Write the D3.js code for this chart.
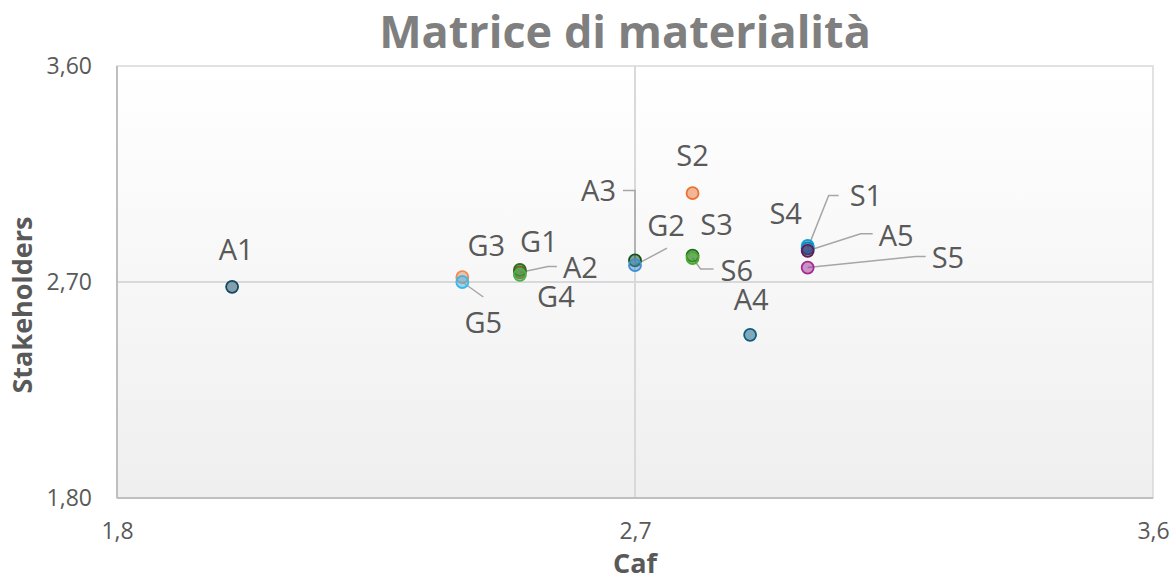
<!DOCTYPE html>
<html>
<head>
<meta charset="utf-8">
<script src="https://cdn.jsdelivr.net/npm/d3@7"></script>
<style>
  body { margin: 0; background: #fff; }
  text { font-family: "Open Sans", sans-serif; }
</style>
</head>
<body>
<script>
// data: one point per topic, drawing order S, A, G (later ones sit on top)
var names = ["S1","S2","S3","S4","S5","S6","A1","A2","A3","A4","A5","G1","G2","G3","G4","G5"];
var caf = [3.0, 2.8, 2.8, 3.0, 3.0, 2.8, 2.0, 2.5, 2.7, 2.9, 3.0, 2.5, 2.7, 2.4, 2.5, 2.4];
var stakeholders = [2.84, 3.07, 2.81, 2.85, 2.76, 2.80, 2.68, 2.74, 2.79, 2.48, 2.83, 2.75, 2.77, 2.72, 2.73, 2.70];
var xTicks = [1.8, 2.7, 3.6];
var yTicks = [1.8, 2.7, 3.6];

// styling, kept apart from the values
var colors = ["#156082","#E97132","#196B24","#0F9ED5","#A02B93","#4EA72E",
              "#104862","#AF5425","#13501B","#0E5C80","#5E1A56","#2F6B1F",
              "#3F8FD2","#EE8A55","#4CB050","#3DB8EA"];
// label offset from the point [dx, dy], and optional leader elbow
var labelPos = {
  S1: {dx: 42, dy: -53, leader: [[21, -53], [31, -53]], anchor: "start"},
  S2: {dx: 0, dy: -37},
  S3: {dx: 24, dy: -31},
  S4: {dx: -22, dy: -32},
  S5: {dx: 124, dy: -10, leader: [[108, -11], [118, -11]], anchor: "start"},
  S6: {dx: 28, dy: 13, leader: [[8, 11], [21, 11]], anchor: "start"},
  A1: {dx: 4, dy: -37},
  A2: {dx: 43, dy: -5, leader: [[28, -6], [37, -6]], anchor: "start"},
  A3: {dx: -19, dy: -70, leader: [[0, -70], [-12, -70]], anchor: "end"},
  A4: {dx: 1, dy: -35},
  A5: {dx: 71, dy: -15, leader: [[53, -17], [65, -17]], anchor: "start"},
  G1: {dx: 19, dy: -28},
  G2: {dx: 31, dy: -39, leader: [[32, -17], [32, -17]]},
  G3: {dx: 24, dy: -31},
  G4: {dx: 36, dy: 22},
  G5: {dx: 21, dy: 41, leader: [[21, 15], [21, 15]]}
};

var W = 1172, H = 579;
var svg = d3.select("body").append("svg")
  .attr("width", W).attr("height", H);

var x = d3.scaleLinear().domain([1.8, 3.6]).range([117, 1153]);
var y = d3.scaleLinear().domain([1.8, 3.6]).range([498, 66]);

var defs = svg.append("defs");
var grad = defs.append("linearGradient").attr("id", "bg")
  .attr("x1", 0).attr("y1", 0).attr("x2", 0).attr("y2", 1);
grad.append("stop").attr("offset", "0%").attr("stop-color", "#ffffff");
grad.append("stop").attr("offset", "100%").attr("stop-color", "#efefef");

svg.append("rect")
  .attr("x", x(1.8)).attr("y", y(3.6))
  .attr("width", x(3.6) - x(1.8)).attr("height", y(1.8) - y(3.6))
  .attr("fill", "url(#bg)")
  .attr("stroke", "#d9d9d9").attr("stroke-width", 1.5);

// cross lines through the middle
svg.append("line")
  .attr("x1", x(2.7)).attr("x2", x(2.7)).attr("y1", y(3.6)).attr("y2", y(1.8))
  .attr("stroke", "#d9d9d9").attr("stroke-width", 2);
svg.append("line")
  .attr("x1", x(1.8)).attr("x2", x(3.6)).attr("y1", y(2.7)).attr("y2", y(2.7))
  .attr("stroke", "#d9d9d9").attr("stroke-width", 2);

// left and bottom axis lines
svg.append("line")
  .attr("x1", x(1.8)).attr("x2", x(1.8)).attr("y1", y(3.6)).attr("y2", y(1.8))
  .attr("stroke", "#bfbfbf").attr("stroke-width", 2);
svg.append("line")
  .attr("x1", x(1.8)).attr("x2", x(3.6)).attr("y1", y(1.8)).attr("y2", y(1.8))
  .attr("stroke", "#bfbfbf").attr("stroke-width", 2);

var fmtY = d => d.toFixed(2).replace(".", ",");
var fmtX = d => d.toFixed(1).replace(".", ",");

var yAxis = d3.axisLeft(y).tickValues(yTicks).tickSize(0).tickFormat(fmtY);
var gy = svg.append("g").attr("transform", "translate(" + (x(1.8) - 22) + ",0)").call(yAxis);
gy.select(".domain").remove();
gy.selectAll("text").attr("fill", "#595959").attr("font-size", 23).attr("font-family", "Open Sans").attr("dy", "0.32em");

var xAxis = d3.axisBottom(x).tickValues(xTicks).tickSize(0).tickFormat(fmtX);
var gx = svg.append("g").attr("transform", "translate(0," + (y(1.8) + 22) + ")").call(xAxis);
gx.select(".domain").remove();
gx.selectAll("text").attr("fill", "#595959").attr("font-size", 23).attr("font-family", "Open Sans");

var points = names.map((n, i) => ({name: n, caf: caf[i], st: stakeholders[i], color: colors[i]}));

// leader lines
svg.append("g").selectAll("polyline")
  .data(points.filter(d => labelPos[d.name].leader))
  .enter().append("polyline")
  .attr("points", function(d) {
    var px = x(d.caf), py = y(d.st), l = labelPos[d.name].leader;
    return [[px, py]].concat(l.map(p => [px + p[0], py + p[1]])).map(p => p.join(",")).join(" ");
  })
  .attr("fill", "none").attr("stroke", "#a6a6a6").attr("stroke-width", 1.5);

// markers
svg.append("g").selectAll("circle")
  .data(points)
  .enter().append("circle")
  .attr("cx", d => x(d.caf))
  .attr("cy", d => y(d.st))
  .attr("r", 6)
  .attr("fill", d => d.color).attr("fill-opacity", 0.5)
  .attr("stroke", d => d.color).attr("stroke-width", 1.8);

// labels
svg.append("g").selectAll("text")
  .data(points)
  .enter().append("text")
  .attr("x", d => x(d.caf) + labelPos[d.name].dx)
  .attr("y", d => y(d.st) + labelPos[d.name].dy)
  .attr("dy", "0.35em")
  .attr("text-anchor", d => labelPos[d.name].anchor || "middle")
  .attr("fill", "#595959").attr("font-size", 29)
  .text(d => d.name);

svg.append("text")
  .attr("x", 625).attr("y", 48)
  .attr("text-anchor", "middle")
  .attr("font-size", 45).attr("font-weight", "bold").attr("fill", "#7f7f7f")
  .text("Matrice di materialità");

svg.append("text")
  .attr("x", x(2.7)).attr("y", 573)
  .attr("text-anchor", "middle")
  .attr("font-size", 27).attr("font-weight", "bold").attr("fill", "#595959")
  .text("Caf");

svg.append("text")
  .attr("transform", "translate(32,305) rotate(-90)")
  .attr("text-anchor", "middle")
  .attr("font-size", 27).attr("font-weight", "bold").attr("fill", "#595959")
  .text("Stakeholders");
</script>
</body>
</html>
